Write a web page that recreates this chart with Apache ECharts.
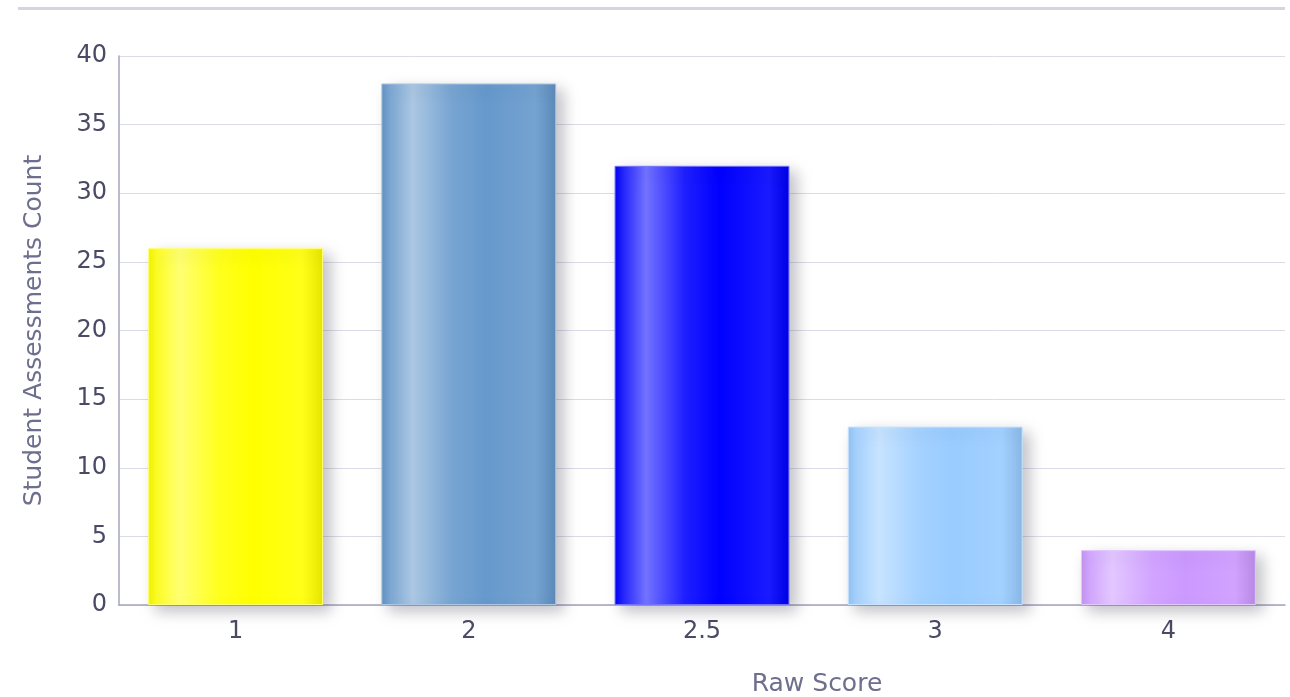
<!DOCTYPE html>
<html><head><meta charset="utf-8">
<script src="https://cdn.jsdelivr.net/npm/echarts@6/dist/echarts.min.js"></script>
<style>html,body{margin:0;padding:0;background:#fff}#c{width:1290px;height:697px}</style>
</head><body><div id="c"></div>
<script>
const categories = ['1', '2', '2.5', '3', '4'];
const counts = [26, 38, 32, 13, 4];
const barColors = ['#ffff00', '#6699cc', '#0000ff', '#99ccff', '#cc99ff'];
const yTicks = [0, 5, 10, 15, 20, 25, 30, 35, 40];

function mix(hex, t, target) {
  const n = parseInt(hex.slice(1), 16);
  let r = n >> 16, g = (n >> 8) & 255, b = n & 255;
  const tr = target === 'w' ? 255 : 0;
  r = Math.round(r + (tr - r) * t); g = Math.round(g + (tr - g) * t); b = Math.round(b + (tr - b) * t);
  return 'rgb(' + r + ',' + g + ',' + b + ')';
}
function grad(c) {
  return new echarts.graphic.LinearGradient(0, 0, 1, 0, [
    {offset: 0, color: mix(c, 0.05, 'b')},
    {offset: 0.05, color: mix(c, 0.15, 'w')},
    {offset: 0.18, color: mix(c, 0.45, 'w')},
    {offset: 0.4, color: mix(c, 0.12, 'w')},
    {offset: 0.6, color: c},
    {offset: 0.88, color: mix(c, 0.1, 'w')},
    {offset: 1, color: mix(c, 0.1, 'b')}
  ]);
}
const chart = echarts.init(document.getElementById('c'), null, {renderer: 'canvas'});
const font = '"DejaVu Sans", Verdana, sans-serif';
chart.setOption({
  animation: false,
  graphic: [{type: 'rect', shape: {x: 18, y: 7, width: 1267, height: 3}, style: {fill: '#d4d4e2'}}],
  grid: {left: 119, right: 5, top: 56, bottom: 92, containLabel: false, outerBoundsMode: 'none'},
  xAxis: {
    type: 'category', data: categories,
    name: 'Raw Score', nameLocation: 'middle', nameGap: 67,
    nameTextStyle: {color: '#6e6e8e', fontSize: 25, fontFamily: font, padding: [0, 0, 0, 230]},
    axisLine: {lineStyle: {color: '#a4a4c0', width: 1.5}},
    axisTick: {show: false},
    axisLabel: {color: '#4a4a66', fontSize: 24, fontFamily: font, margin: 15}
  },
  yAxis: {
    type: 'value', min: yTicks[0], max: yTicks[yTicks.length - 1], interval: 5,
    name: 'Student Assessments Count', nameLocation: 'middle', nameGap: 72,
    nameTextStyle: {color: '#6e6e8e', fontSize: 25, fontFamily: font},
    axisLine: {show: true, lineStyle: {color: '#a4a4c0', width: 1.5}},
    axisTick: {show: false},
    axisLabel: {color: '#4a4a66', fontSize: 24, fontFamily: font, margin: 12},
    splitLine: {lineStyle: {color: '#dcdce8', width: 1}}
  },
  series: [{
    type: 'bar', barWidth: '75%',
    data: counts.map((v, i) => ({
      value: v,
      itemStyle: {
        color: grad(barColors[i]),
        borderColor: mix(barColors[i], 0.45, 'w'), borderWidth: 1,
        shadowColor: 'rgba(40,40,60,0.28)', shadowBlur: 14, shadowOffsetX: 7, shadowOffsetY: 6
      }
    }))
  }]
});
</script></body></html>
